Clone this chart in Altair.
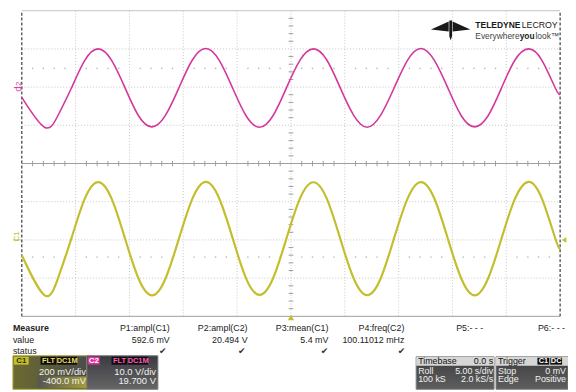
import altair as alt
import pandas as pd

# ------------------------------------------------------------------
# Values read from the oscilloscope screen
# ------------------------------------------------------------------
# time axis: 5 s/div, 10 divisions, trigger at centre
time_s = [-25.0, -22.90, -21.65, -20.40, -19.15, -17.90, -16.66, -15.41, -14.16,
          -12.91, -11.66, -10.41, -9.16, -7.91, -6.66, -5.41, -4.17, -2.92, -1.67,
          -0.42, 0.83, 2.08, 3.33, 4.58, 5.83, 7.07, 8.32, 9.57, 10.82, 12.07,
          13.32, 14.57, 15.82, 17.06, 18.31, 19.56, 20.81, 22.06, 23.31, 24.56, 25.0]
# C1 (yellow), mV, 200 mV/div
c1_mv = [-80,
         -289, -202, 7, 216, 303, 216, 7, -202,
         -290, -203, 6, 215, 304, 217, 8, -201,
         -288, -202, 7, 216, 302, 216, 6, -202,
         -289, -203, 7, 215, 303, 217, 7, -202,
         -290, -202, 8, 216, 304, 216, 6,
         -50]
# C2 (magenta), V, 10 V/div
c2_v = [-2.7,
        -10.5, -7.5, -0.3, 7.0, 10.0, 7.0, -0.2, -7.5,
        -10.4, -7.4, -0.2, 7.1, 10.1, 7.0, -0.3, -7.5,
        -10.5, -7.5, -0.2, 7.0, 10.0, 7.1, -0.2, -7.4,
        -10.5, -7.4, -0.3, 7.0, 10.1, 7.0, -0.2, -7.5,
        -10.4, -7.5, -0.2, 7.1, 10.0, 7.0, -0.3,
        -2.0]

grid_t = [-20, -15, -10, -5, 0, 5, 10, 15, 20]
edge_t = [-25, 25]
grid_div = [-3, -2, -1, 1, 2, 3]
minor_t = [t for t in range(-24, 25) if t % 5]
minor_div = [round(i * 0.2, 1) for i in range(-19, 20) if i % 5]
marker_rows = [2.49, -2.45]

meas_names = ["P1:ampl(C1)", "P2:ampl(C2)", "P3:mean(C1)", "P4:freq(C2)", "P5:- - -", "P6:- - -"]
meas_values = ["592.6 mV", "20.494 V", "5.4 mV", "100.11012 mHz", "", ""]
meas_status = ["\u2714", "\u2714", "\u2714", "\u2714", "", ""]

# ------------------------------------------------------------------
MAG = "#d4379b"
YEL = "#c3be2c"
SANS = "Liberation Sans"
ONE = pd.DataFrame({"k": [0]})

X = alt.Scale(domain=[-25, 25], range=[14, 560], nice=False, zero=False)
YDIV = alt.Scale(domain=[-4, 4], range=[310, 0], nice=False, zero=False)
YC2 = alt.Scale(domain=[-20, 20], range=[155, 0], nice=False, zero=False)
YC1 = alt.Scale(domain=[-400, 400], range=[310, 155], nice=False, zero=False)


def T(s, x, y, size=9, color="#222222", align="left", weight="normal",
      font=SANS, angle=0, baseline="middle"):
    return alt.Chart(ONE).mark_text(
        text=s, align=align, baseline=baseline, fontSize=size, color=color,
        fontWeight=weight, font=font, angle=angle
    ).encode(x=alt.value(x), y=alt.value(y))


def R(x, x2, y, y2, fill, stroke=None, sw=1.0):
    kw = dict(fill=fill)
    if stroke:
        kw.update(stroke=stroke, strokeWidth=sw)
    return alt.Chart(ONE).mark_rect(**kw).encode(
        x=alt.value(x), x2=alt.value(x2), y=alt.value(y), y2=alt.value(y2))


def grad(c0, c1, horizontal=False):
    if horizontal:
        return alt.Gradient(gradient="linear", x1=0, x2=1, y1=0, y2=0,
                            stops=[alt.GradientStop(color=c0, offset=0),
                                   alt.GradientStop(color=c1, offset=1)])
    return alt.Gradient(gradient="linear", x1=0, x2=0, y1=0, y2=1,
                        stops=[alt.GradientStop(color=c0, offset=0),
                               alt.GradientStop(color=c1, offset=1)])


layers = []

# ---- graticule ----
layers.append(alt.Chart(pd.DataFrame({"t": grid_t})).mark_rule(
    color="#c6c6c6", strokeDash=[1, 2], strokeWidth=1).encode(
    x=alt.X("t:Q", scale=X, axis=None),
    y=alt.YDatum(-4, scale=YDIV, axis=None), y2=alt.Y2Datum(4)))
layers.append(alt.Chart(pd.DataFrame({"d": grid_div})).mark_rule(
    color="#c6c6c6", strokeDash=[1, 2], strokeWidth=1).encode(
    y=alt.Y("d:Q", scale=YDIV, axis=None),
    x=alt.XDatum(-25, scale=X, axis=None), x2=alt.X2Datum(25)))
layers.append(alt.Chart(pd.DataFrame({"d": [4]})).mark_rule(
    color="#c4c4c4", strokeWidth=1).encode(
    y=alt.Y("d:Q", scale=YDIV, axis=None),
    x=alt.XDatum(-25, scale=X, axis=None), x2=alt.X2Datum(25)))
layers.append(alt.Chart(pd.DataFrame({"d": [0, -4]})).mark_rule(
    color="#9c9c9c", strokeWidth=1).encode(
    y=alt.Y("d:Q", scale=YDIV, axis=None),
    x=alt.XDatum(-25, scale=X, axis=None), x2=alt.X2Datum(25)))
# minor ticks on the centre axes
layers.append(alt.Chart(pd.DataFrame({"t": minor_t})).mark_rule(
    color="#9c9c9c", strokeWidth=1).encode(
    x=alt.X("t:Q", scale=X, axis=None),
    y=alt.YDatum(-0.07, scale=YDIV, axis=None), y2=alt.Y2Datum(0.07)))
layers.append(alt.Chart(pd.DataFrame({"d": minor_div})).mark_rule(
    color="#9c9c9c", strokeWidth=1).encode(
    y=alt.Y("d:Q", scale=YDIV, axis=None),
    x=alt.XDatum(-0.22, scale=X, axis=None), x2=alt.X2Datum(0.22)))
# dotted marker rows
dots = pd.DataFrame([{"t": t, "d": d} for d in marker_rows for t in minor_t])
layers.append(alt.Chart(dots).mark_square(size=2, color="#b4b4b4", opacity=1).encode(
    x=alt.X("t:Q", scale=X, axis=None), y=alt.Y("d:Q", scale=YDIV, axis=None)))
# dashed left / right edges
layers.append(alt.Chart(pd.DataFrame({"t": edge_t})).mark_rule(
    color="#3a3a3a", strokeDash=[3, 2], strokeWidth=1.2).encode(
    x=alt.X("t:Q", scale=X, axis=None),
    y=alt.YDatum(-4, scale=YDIV, axis=None), y2=alt.Y2Datum(4)))

# ---- traces ----
wave = pd.DataFrame({"t": time_s, "c1": c1_mv, "c2": c2_v})
layers.append(alt.Chart(wave).mark_line(color=MAG, strokeWidth=1.6, interpolate="natural").encode(
    x=alt.X("t:Q", scale=X, axis=None), y=alt.Y("c2:Q", scale=YC2, axis=None)))
layers.append(alt.Chart(wave).mark_line(color=YEL, strokeWidth=2.2, interpolate="natural").encode(
    x=alt.X("t:Q", scale=X, axis=None), y=alt.Y("c1:Q", scale=YC1, axis=None)))

# ---- markers ----
layers.append(alt.Chart(ONE).mark_point(shape="triangle-up", filled=True, size=40,
                                        color=YEL, opacity=1).encode(
    x=alt.XDatum(0, scale=X, axis=None), y=alt.YDatum(-4.03, scale=YDIV, axis=None)))
layers.append(alt.Chart(ONE).mark_point(shape="triangle-left", filled=True, size=30,
                                        color=YEL, opacity=1).encode(
    x=alt.value(564), y=alt.YDatum(0, scale=YC1, axis=None)))
layers.append(T("C2", 11, 77, size=8, color=MAG, align="center", angle=270))
layers.append(R(6, 14, 77.5, 78.5, MAG))
layers.append(T("C1", 9, 229, size=8, color=YEL, align="center", angle=270))
layers.append(R(5, 13, 232, 233, YEL))

# ---- logo ----
bird = ("M -1 -0.05 L -0.1 -0.45 L -0.1 0.05 Z "
        "M 1 -0.05 L 0.1 -0.45 L 0.1 0.05 Z "
        "M -0.07 -0.5 L 0.07 -0.5 L 0.07 0.3 L 0 0.5 L -0.07 0.3 Z")
layers.append(alt.Chart(ONE).mark_point(shape=bird, filled=True, size=1600,
                                        color="#1a1a1a", opacity=1).encode(
    x=alt.value(449), y=alt.value(20)))
layers.append(T("TELEDYNE", 474, 15, size=8.6, color="#1a1a1a", weight="bold"))
layers.append(T("LECROY", 521, 15, size=8.9, color="#1a1a1a"))
layers.append(T("Everywhere", 474, 26, size=8.5, color="#444444"))
layers.append(T("you", 519, 26, size=8.5, color="#222222", weight="bold"))
layers.append(T("look\u2122", 535, 26, size=8.5, color="#444444"))

# ---- measurement table ----
layers.append(T("Measure", 5, 322, weight="bold"))
layers.append(T("value", 5, 333.7))
layers.append(T("status", 5, 344.7))
col_right = [164, 243, 325, 402, 482, 565]
chk_x = [157, 237, 321, 399]
for i, name in enumerate(meas_names):
    layers.append(T(name, col_right[i], 322, align="right"))
    if meas_values[i]:
        layers.append(T(meas_values[i], col_right[i], 333.7, align="right"))
    if meas_status[i]:
        layers.append(T(meas_status[i], chk_x[i], 345, size=9, color="#333333",
                        align="center", font="DejaVu Sans"))

# ---- channel descriptor boxes ----
BOXT = "#f2f2f2"
# C1
layers.append(R(5, 80, 350, 384, grad("#6c6a30", "#4c4c4c", horizontal=True), stroke="#a9a43a"))
layers.append(R(30, 80, 371, 383, grad("#555555", "#a39d3a", horizontal=True)))
layers.append(R(6, 21, 351, 359, "#c4bf2a"))
layers.append(T("C1", 13.5, 355.5, size=8, color="#2e2e00", align="center", weight="bold"))
layers.append(R(33, 49, 351, 359, "#0d0d0d"))
layers.append(R(50, 70, 351, 359, "#0d0d0d"))
layers.append(T("FLT", 41, 355.5, size=7.5, color="#e6df60", align="center", weight="bold"))
layers.append(T("DC1M", 60, 355.5, size=7.5, color="#e6df60", align="center", weight="bold"))
layers.append(T("200 mV/div", 79, 367, size=9.5, color=BOXT, align="right"))
layers.append(T("-400.0 mV", 79, 376, size=9.5, color=BOXT, align="right"))
# C2
layers.append(R(80, 152, 350, 384, grad("#3a3a42", "#666666"), stroke="#777777"))
layers.append(R(81, 93, 351, 359, "#e0309a"))
layers.append(T("C2", 87, 355.5, size=8, color="#ffffff", align="center", weight="bold"))
layers.append(R(105, 121, 351, 359, "#0d0d0d"))
layers.append(R(122, 142, 351, 359, "#0d0d0d"))
layers.append(T("FLT", 113, 355.5, size=7.5, color="#ff5ab8", align="center", weight="bold"))
layers.append(T("DC1M", 132, 355.5, size=7.5, color="#ff5ab8", align="center", weight="bold"))
layers.append(T("10.0 V/div", 150, 367, size=9.5, color=BOXT, align="right"))
layers.append(T("19.700 V", 150, 376, size=9.5, color=BOXT, align="right"))

# Timebase
layers.append(R(414, 493, 351, 384, grad("#3e3e3e", "#5e5e5e"), stroke="#808080"))
layers.append(R(414, 493, 351, 360, "#d6d6d6"))
layers.append(T("Timebase", 416, 355.5, size=9, color="#111111"))
layers.append(T("0.0 s", 492, 355.5, size=9, color="#111111", align="right"))
layers.append(T("Roll", 416, 365.3, size=9, color=BOXT))
layers.append(T("5.00 s/div", 492, 365.3, size=9, color=BOXT, align="right"))
layers.append(T("100 kS", 416, 374, size=9, color=BOXT))
layers.append(T("2.0 kS/s", 492, 374, size=9, color=BOXT, align="right"))
# Trigger
layers.append(R(495, 568, 351, 384, grad("#3e3e3e", "#5e5e5e"), stroke="#808080"))
layers.append(R(495, 568, 351, 360, "#d6d6d6"))
layers.append(T("Trigger", 497, 355.5, size=9, color="#111111"))
layers.append(R(537, 549, 352, 359, "#0d0d0d"))
layers.append(R(550, 562, 352, 359, "#0d0d0d"))
layers.append(T("C1", 543, 355.5, size=7.5, color="#ffffff", align="center", weight="bold"))
layers.append(T("DC", 556, 355.5, size=7.5, color="#ffffff", align="center", weight="bold"))
layers.append(T("Stop", 497, 365.3, size=9, color=BOXT))
layers.append(T("0 mV", 566, 365.3, size=9, color=BOXT, align="right"))
layers.append(T("Edge", 497, 374, size=9, color=BOXT))
layers.append(T("Positive", 566, 374, size=9, color=BOXT, align="right"))

chart = alt.layer(*layers).resolve_scale(y="independent").properties(
    width=568, height=384, autosize=alt.AutoSizeParams(type="none"), padding=0,
    background="white"
).configure_view(strokeWidth=0)

chart.save("out.html", embed_options={"renderer": "svg", "actions": False})
